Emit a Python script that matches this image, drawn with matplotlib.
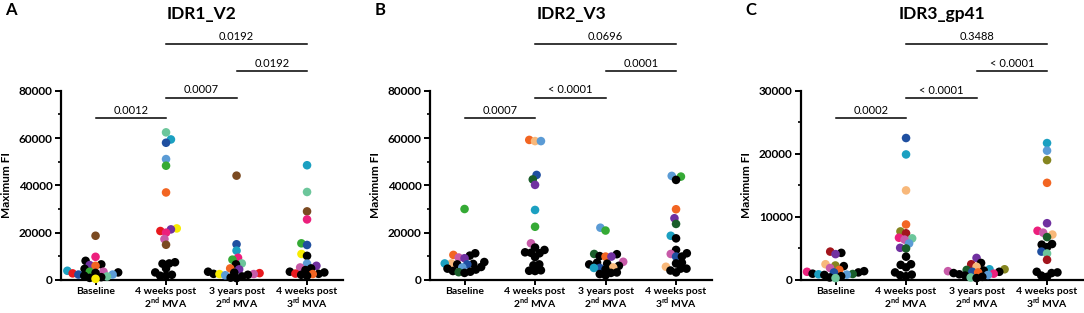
import numpy as np
import matplotlib
matplotlib.use('Agg')
import matplotlib.pyplot as plt
from matplotlib.ticker import MultipleLocator

plt.rcParams['font.family'] = ['Lato', 'DejaVu Sans']
plt.rcParams['mathtext.fontset'] = 'custom'
plt.rcParams['mathtext.bf'] = 'Lato:bold'
plt.rcParams['mathtext.rm'] = 'Lato'

pal = {
    'k': '#000000', 'seafoam': '#6cc69b', 'teal': '#1ba0c1', 'navy': '#1f4fa0',
    'sky': '#5b9bd5', 'green': '#35aa35', 'orange': '#f26522', 'yellow': '#f8ec00',
    'red': '#e8191e', 'purple': '#7030a0', 'magenta': '#ec1f7c', 'orchid': '#c75aa8',
    'brown': '#7b4a21', 'dkgreen': '#1a5e2a', 'peach': '#f8b87a', 'dkred': '#a2141c',
    'olive': '#85851f',
}

groups = ['Baseline', '4 weeks post\n2$^{\\mathbf{nd}}$ MVA', '3 years post\n2$^{\\mathbf{nd}}$ MVA',
          '4 weeks post\n3$^{\\mathbf{rd}}$ MVA']
titles = ['IDR1_V2', 'IDR2_V3', 'IDR3_gp41']
letters = ['A', 'B', 'C']
ymax = [80000, 80000, 30000]
ystep = [20000, 20000, 10000]
pairs = [(0, 1), (1, 2), (2, 3), (1, 3)]
pvals = [['0.0012', '0.0007', '0.0192', '0.0192'],
         ['0.0007', '< 0.0001', '0.0001', '0.0696'],
         ['0.0002', '< 0.0001', '< 0.0001', '0.3488']]
bar_y = [[68400, 77100, 88400, 99600],
         [68400, 77100, 88400, 99600],
         [25650, 28900, 33150, 37350]]

# IDR1_V2
idr1_base = [18700, 9800, 8100, 6600, 6300, 6000, 4700, 3900, 3500, 3500, 3200, 3000, 2800, 2300, 2300, 1800, 1500, 1200, 900, 500]
idr1_base_c = ['brown', 'magenta', 'k', 'k', 'purple', 'orange', 'k', 'teal', 'green', 'orchid', 'k', 'k', 'red', 'navy', 'sky', 'k', 'seafoam', 'k', 'k', 'yellow']
idr1_4w2 = [62400, 59400, 58000, 51100, 48300, 37000, 21800, 21400, 20700, 20000, 17300, 14900, 7500, 7000, 6900, 4900, 3200, 2200, 1800, 1800]
idr1_4w2_c = ['seafoam', 'teal', 'navy', 'sky', 'green', 'orange', 'yellow', 'purple', 'red', 'magenta', 'orchid', 'brown', 'k', 'k', 'k', 'k', 'k', 'k', 'k', 'k']
idr1_3y2 = [44100, 15100, 12400, 9400, 8600, 7000, 6600, 4900, 4500, 3500, 3100, 2900, 2600, 2500, 2500, 2200, 2000, 1500, 1000, 800]
idr1_3y2_c = ['brown', 'navy', 'teal', 'magenta', 'green', 'seafoam', 'k', 'orange', 'purple', 'k', 'k', 'red', 'k', 'yellow', 'orchid', 'k', 'sky', 'k', 'k', 'k']
idr1_4w3 = [48500, 37200, 29000, 25600, 15500, 14800, 11000, 10200, 6900, 6000, 5300, 4900, 4200, 3500, 3200, 2700, 2600, 2500, 2200, 1800]
idr1_4w3_c = ['teal', 'seafoam', 'brown', 'magenta', 'green', 'navy', 'yellow', 'k', 'sky', 'purple', 'orchid', 'k', 'k', 'k', 'k', 'red', 'k', 'orange', 'k', 'k']

# IDR2_V3
idr2_base = [30000, 11300, 10600, 10300, 9500, 9200, 7600, 7000, 7000, 6800, 6600, 6600, 5500, 5300, 4800, 4400, 3800, 3500, 3300, 3000]
idr2_base_c = ['green', 'k', 'orange', 'k', 'orchid', 'purple', 'k', 'peach', 'teal', 'k', 'navy', 'k', 'k', 'sky', 'k', 'k', 'k', 'k', 'dkgreen', 'k']
idr2_4w2 = [59200, 58700, 58700, 44400, 42500, 40200, 29600, 22500, 15500, 13700, 12700, 11700, 11500, 11300, 9700, 6600, 6200, 4100, 3900, 3800]
idr2_4w2_c = ['orange', 'peach', 'sky', 'navy', 'dkgreen', 'purple', 'teal', 'green', 'orchid', 'k', 'k', 'k', 'k', 'k', 'k', 'k', 'k', 'k', 'k', 'k']
idr2_3y2 = [22100, 20900, 11000, 10900, 10100, 9900, 9900, 7700, 7300, 6900, 6600, 6000, 5300, 5100, 5100, 4500, 3200, 3000, 2500, 2000]
idr2_3y2_c = ['sky', 'green', 'dkgreen', 'k', 'k', 'orange', 'purple', 'orchid', 'k', 'k', 'k', 'k', 'peach', 'navy', 'teal', 'k', 'k', 'k', 'k', 'k']
idr2_4w3 = [44000, 43700, 42300, 29900, 26100, 23700, 18700, 17600, 12700, 11300, 11000, 9900, 9900, 7300, 7000, 5600, 4800, 4800, 4000, 3200]
idr2_4w3_c = ['sky', 'green', 'k', 'orange', 'purple', 'dkgreen', 'teal', 'k', 'k', 'k', 'orchid', 'navy', 'k', 'k', 'k', 'peach', 'k', 'k', 'k', 'k']

# IDR3_gp41
idr3_base = [4500, 4300, 4100, 2500, 2300, 2200, 1900, 1600, 1400, 1300, 1200, 1200, 1000, 950, 900, 850, 800, 600, 400, 300]
idr3_base_c = ['dkred', 'k', 'purple', 'peach', 'olive', 'k', 'orchid', 'orange', 'k', 'magenta', 'navy', 'k', 'k', 'dkgreen', 'teal', 'sky', 'k', 'k', 'k', 'seafoam']
idr3_4w2 = [22500, 19900, 14200, 8800, 7700, 7400, 6700, 6600, 6400, 5800, 5100, 5000, 3700, 2500, 2400, 2000, 1200, 850, 750, 600]
idr3_4w2_c = ['navy', 'teal', 'peach', 'orange', 'olive', 'dkred', 'magenta', 'seafoam', 'orchid', 'sky', 'purple', 'dkgreen', 'k', 'k', 'k', 'k', 'k', 'k', 'k', 'k']
idr3_3y2 = [3500, 2700, 2500, 2100, 1700, 1700, 1600, 1500, 1400, 1300, 1300, 1200, 1100, 1000, 900, 800, 700, 500, 400, 300]
idr3_3y2_c = ['purple', 'k', 'dkred', 'peach', 'teal', 'olive', 'dkgreen', 'k', 'orchid', 'navy', 'k', 'orange', 'k', 'magenta', 'k', 'sky', 'k', 'k', 'seafoam', 'k']
idr3_4w3 = [21700, 20500, 19000, 15400, 9000, 7800, 7500, 7200, 6800, 5700, 5600, 5200, 4500, 4200, 3200, 1300, 1200, 1100, 700, 500]
idr3_4w3_c = ['teal', 'sky', 'olive', 'orange', 'purple', 'magenta', 'orchid', 'peach', 'dkgreen', 'k', 'k', 'k', 'navy', 'seafoam', 'dkred', 'k', 'k', 'k', 'k', 'k']

panels = [
    [(idr1_base, idr1_base_c), (idr1_4w2, idr1_4w2_c), (idr1_3y2, idr1_3y2_c), (idr1_4w3, idr1_4w3_c)],
    [(idr2_base, idr2_base_c), (idr2_4w2, idr2_4w2_c), (idr2_3y2, idr2_3y2_c), (idr2_4w3, idr2_4w3_c)],
    [(idr3_base, idr3_base_c), (idr3_4w2, idr3_4w2_c), (idr3_3y2, idr3_3y2_c), (idr3_4w3, idr3_4w3_c)],
]


def swarm_x(ax, center, vals, d):
    # simple beeswarm in pixel space, lowest values placed first
    pts = ax.transData.transform(np.column_stack([np.full(len(vals), center), vals]))
    order = np.argsort(vals, kind='stable')
    placed = []
    offs = np.zeros(len(vals))
    for n, i in enumerate(order):
        y = pts[i, 1]
        cands = [0.0]
        for px, py in placed:
            dy = y - py
            if abs(dy) < d:
                dx = np.sqrt(d * d - dy * dy)
                cands += [px + dx, px - dx]
        cands.sort(key=lambda c: (round(abs(c), 3), c if n % 2 else -c))
        for c in cands:
            if all((c - px) ** 2 + (y - py) ** 2 >= d * d - 1e-6 for px, py in placed):
                break
        placed.append((c, y))
        offs[i] = c
    back = ax.transData.inverted().transform(np.column_stack([pts[:, 0] + offs, pts[:, 1]]))
    return back[:, 0]


fig = plt.figure(figsize=(10.84, 3.13), dpi=100)
lefts = [61, 430, 801]

for p in range(3):
    ax = fig.add_axes([lefts[p] / 1084, 1 - 280 / 313, 282 / 1084, 189.3 / 313])
    ax.set_xlim(-0.49, 3.51)
    ax.set_ylim(0, ymax[p])
    for side in ['top', 'right']:
        ax.spines[side].set_visible(False)
    for side in ['left', 'bottom']:
        ax.spines[side].set_linewidth(1.6)
    ax.yaxis.set_major_locator(MultipleLocator(ystep[p]))
    ax.yaxis.set_minor_locator(MultipleLocator(ystep[p] / 2))
    ax.tick_params(axis='y', which='major', length=4, width=1.4, labelsize=8.5, pad=2)
    ax.tick_params(axis='y', which='minor', length=2.5, width=1.2)
    ax.tick_params(axis='x', length=3.5, width=1.4, labelsize=7.5, pad=1.5)
    ax.set_xticks(range(4))
    ax.set_xticklabels(groups, fontweight='bold', linespacing=0.95)
    for lab in ax.get_yticklabels():
        lab.set_fontweight('bold')
    ax.set_ylabel('Maximum FI', fontsize=8.5, fontweight='bold')
    ax.yaxis.set_label_coords(-0.174, 0.5)

    for g, (vals, cols) in enumerate(panels[p]):
        xs = swarm_x(ax, g, vals, 5.9)
        ax.scatter(xs, vals, s=38, c=[pal[c] for c in cols], linewidths=0, zorder=3, clip_on=False)

    for (a, b), txt, yb in zip(pairs, pvals[p], bar_y[p]):
        ax.plot([a, b], [yb, yb], color='black', lw=1.1, clip_on=False)
        ax.annotate(txt, ((a + b) / 2, yb), xytext=(0, 1.5), textcoords='offset points',
                    ha='center', va='bottom', fontsize=8, annotation_clip=False)

    cx = (lefts[p] + 141) / 1084
    fig.text(cx, 1 - 14 / 313, titles[p], ha='center', va='center', fontsize=12.5, fontweight='bold')
    fig.text((lefts[p] - 50) / 1084, 1 - 10 / 313, letters[p], ha='center', va='center',
             fontsize=12, fontweight='bold')

fig.savefig('out.png', dpi=100)
